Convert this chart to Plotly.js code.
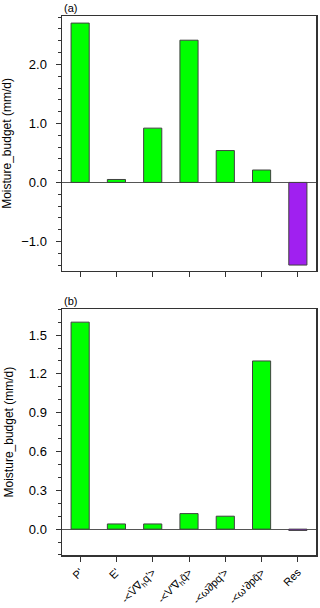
<!DOCTYPE html>
<html><head><meta charset="utf-8">
<script src="https://cdn.plot.ly/plotly-3.0.1.min.js"></script>
<style>html,body{margin:0;padding:0;background:#fff}#c{width:320px;height:608px}</style>
</head><body><div id="c"></div><script>
const categories = ["P'", "E'", "-&lt;V̄∇<sub>h</sub>q'&gt;", "-&lt;V'∇<sub>h</sub>q̄&gt;", "-&lt;ω̄∂pq'&gt;", "-&lt;ω'∂pq̄&gt;", "Res"];
const valuesA = [2.70, 0.05, 0.92, 2.41, 0.54, 0.21, -1.40];
const valuesB = [1.60, 0.04, 0.04, 0.12, 0.10, 1.30, -0.01];
const barColors = ["#00ff00","#00ff00","#00ff00","#00ff00","#00ff00","#00ff00","#a020f0"];
const panelLabels = ["(a)", "(b)"];
const yTitle = "Moisture_budget (mm/d)";

const font = "Liberation Sans, Arial, sans-serif";
const barStyle = {color: barColors, line: {color: "#404040", width: 1}};
const traces = [
  {type: "bar", x: categories, y: valuesA, width: 0.5, marker: barStyle, xaxis: "x", yaxis: "y", hoverinfo: "none"},
  {type: "bar", x: categories, y: valuesB, width: 0.5, marker: barStyle, xaxis: "x2", yaxis: "y2", hoverinfo: "none"}
];
const axCommon = {showline: true, mirror: true, linecolor: "#333", linewidth: 1.5, ticks: "outside", ticklen: 5, tickcolor: "#333", showgrid: false, zeroline: false, fixedrange: true};
const yCommon = Object.assign({}, axCommon, {
  zeroline: true, zerolinecolor: "#555", zerolinewidth: 1, tickformat: ".1f",
  tickfont: {family: font, size: 13, color: "#000"}, ticklabelstandoff: 6,
  title: {text: yTitle, font: {family: font, size: 12, color: "#000"}, standoff: 12}
});
const layout = {
  width: 320, height: 608, margin: {l: 62, r: 4, t: 16, b: 53},
  paper_bgcolor: "#fff", plot_bgcolor: "#fff", showlegend: false, bargap: 0,
  xaxis: Object.assign({}, axCommon, {domain: [0, 1], anchor: "y", range: [-0.5, 6.5], showticklabels: false}),
  yaxis: Object.assign({}, yCommon, {domain: [0.527, 1], anchor: "x", range: [-1.5, 2.82], dtick: 1, tick0: 0,
    minor: {dtick: 0.2, ticks: "outside", ticklen: 3, tickcolor: "#333"}}),
  xaxis2: Object.assign({}, axCommon, {domain: [0, 1], anchor: "y2", range: [-0.5, 6.5], tickangle: -45,
    ticklabelstandoff: 0, tickfont: {family: font, size: 11, color: "#000"}}),
  yaxis2: Object.assign({}, yCommon, {domain: [0, 0.456], anchor: "x2", range: [-0.2, 1.7], dtick: 0.3, tick0: 0,
    minor: {dtick: 0.1, ticks: "outside", ticklen: 3, tickcolor: "#333"}}),
  annotations: [
    {text: panelLabels[0], xref: "paper", yref: "paper", x: 0, y: 1, xanchor: "left", yanchor: "bottom", showarrow: false, font: {family: font, size: 11, color: "#000"}},
    {text: panelLabels[1], xref: "paper", yref: "paper", x: 0, y: 0.456, xanchor: "left", yanchor: "bottom", showarrow: false, font: {family: font, size: 11, color: "#000"}}
  ]
};
Plotly.newPlot("c", traces, layout, {staticPlot: true, displayModeBar: false});
</script></body></html>
